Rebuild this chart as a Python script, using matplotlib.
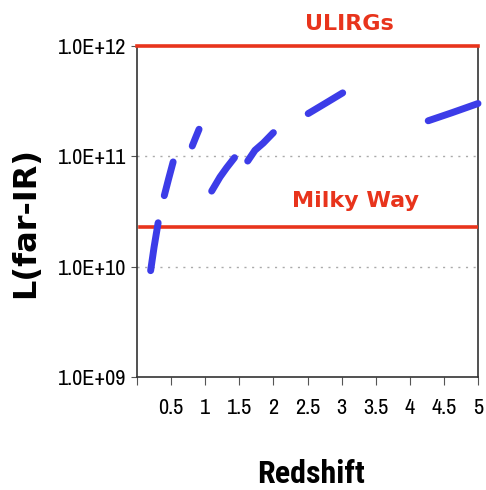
import matplotlib
matplotlib.use("Agg")
import matplotlib.pyplot as plt
import numpy as np

# Data segments (redshift, far-IR luminosity)
seg_z = [
    [0.20, 0.25, 0.31],
    [0.40, 0.465, 0.53],
    [0.81, 0.86, 0.91],
    [1.095, 1.217, 1.315, 1.43],
    [1.623, 1.73, 1.852, 2.0],
    [2.51, 2.757, 3.016],
    [4.27, 4.614, 5.0],
]
seg_L = [
    [9.2e9, 1.5e10, 2.5e10],
    [4.4e10, 6.3e10, 8.9e10],
    [1.24e11, 1.48e11, 1.76e11],
    [4.84e10, 6.49e10, 7.89e10, 9.73e10],
    [9.06e10, 1.135e11, 1.32e11, 1.64e11],
    [2.44e11, 3.01e11, 3.76e11],
    [2.10e11, 2.48e11, 3.01e11],
]
ulirg_L = 1.0e12
milky_L = 2.3e10
ref_labels = ["ULIRGs", "Milky Way"]

x_ticks = [0, 0.5, 1, 1.5, 2, 2.5, 3, 3.5, 4, 4.5, 5]
x_tick_labels = ["", "0.5", "1", "1.5", "2", "2.5", "3", "3.5", "4", "4.5", "5"]
y_ticks = [1e9, 1e10, 1e11, 1e12]
y_tick_labels = ["1.0E+09", "1.0E+10", "1.0E+11", "1.0E+12"]

narrow = ['Archivo Narrow', 'Liberation Sans', 'DejaVu Sans']
bold_narrow = ['Roboto Condensed', 'Liberation Sans', 'DejaVu Sans']
wide = ['DejaVu Sans']
plt.rcParams['font.family'] = narrow

fig = plt.figure(figsize=(4.86, 4.90), dpi=100)
ax = fig.add_axes([137/486, 1-377/490, (478-137)/486, (377-46)/490])
ax.set_yscale('log')
ax.set_xlim(0, 5)
ax.set_ylim(1e9, 1e12)

red = '#e8341c'
blue = '#3c3ce8'

for lv in [1e10, 1e11]:
    ax.axhline(lv, color='#aaaaaa', linestyle=(0, (1.5, 4)), linewidth=1.0, zorder=1)

ax.axhline(ulirg_L, color=red, linewidth=2.6, zorder=4, clip_on=False)
ax.plot([0.05, 5], [milky_L, milky_L], color=red, linewidth=2.6, zorder=3)

for z, L in zip(seg_z, seg_L):
    ax.plot(z, L, color=blue, linewidth=5, solid_capstyle='round',
            solid_joinstyle='round', zorder=5, clip_on=False)

fig.text(349/486, 1-24.5/490, ref_labels[0], color=red, fontsize=16, fontweight='bold',
         family=wide, ha='center', va='center')
fig.text(355/486, 1-201/490, ref_labels[1], color=red, fontsize=16, fontweight='bold',
         family=wide, ha='center', va='center')

ax.set_xticks(x_ticks)
ax.set_xticklabels(x_tick_labels, fontsize=16)
ax.set_yticks(y_ticks)
ax.set_yticklabels(y_tick_labels, fontsize=16)
ax.minorticks_off()
ax.tick_params(axis='x', direction='out', length=6, width=0.8, pad=9, color='#555555')
ax.tick_params(axis='y', direction='out', length=4, width=0.8, pad=4, color='#555555')
for s in ax.spines.values():
    s.set_linewidth(1.2)
    s.set_color('#333333')

fig.text(311/486, 1-474/490, "Redshift", fontsize=23, fontweight='bold',
         family=bold_narrow, ha='center', va='center')
fig.text(26/486, 1-222/490, "L(far-IR)", fontsize=23, fontweight='bold',
         family=wide, rotation=90, ha='center', va='center')

fig.savefig("out.png", dpi=100)
